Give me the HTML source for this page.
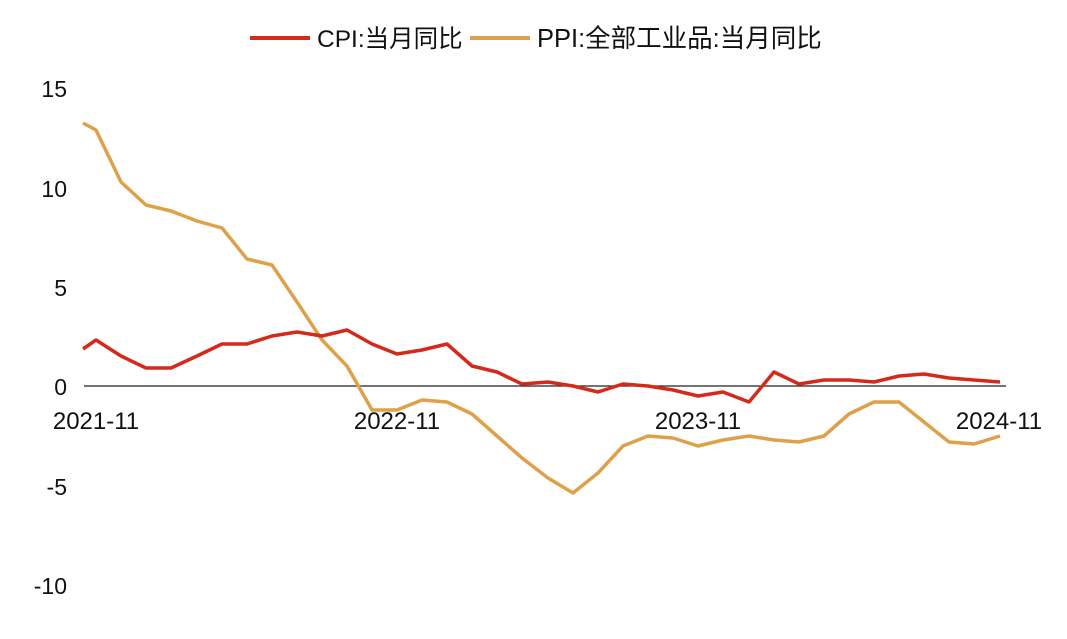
<!DOCTYPE html>
<html><head><meta charset="utf-8"><style>
html,body{margin:0;padding:0;background:#fff;}
svg text{font-family:"Liberation Sans","Noto Sans CJK SC",sans-serif;fill:#111;}
</style></head><body>
<svg width="1067" height="634" viewBox="0 0 1067 634" xmlns="http://www.w3.org/2000/svg">
<line x1="250" y1="38" x2="310" y2="38" stroke="#d42a1c" stroke-width="4"/>
<text x="317" y="47" font-size="24.5">CPI:当月同比</text>
<line x1="470" y1="38" x2="530" y2="38" stroke="#dea14a" stroke-width="4"/>
<text x="537" y="47" font-size="25.5">PPI:全部工业品:当月同比</text>
<g font-size="23" text-anchor="end">
<text x="67" y="97">15</text>
<text x="67" y="197">10</text>
<text x="67" y="296">5</text>
<text x="67" y="395">0</text>
<text x="67" y="495">-5</text>
<text x="67" y="594">-10</text>
</g>
<line x1="84" y1="386" x2="1006" y2="386" stroke="#222" stroke-width="1.3"/>
<g font-size="24" text-anchor="middle">
<text x="96" y="429">2021-11</text>
<text x="397" y="429">2022-11</text>
<text x="698" y="429">2023-11</text>
<text x="999" y="429">2024-11</text>
</g>
<polyline fill="none" stroke="#dea14a" stroke-width="3.5" stroke-linejoin="round" points="83,123 96,130 121,182 146,205 171,211 197,221 222,228 247,259 272,265 297,302 322,340 347,366 372,410 397,410 422,400 447,402 472,414 497,436 522,458 548,478 573,493 598,473 623,446 648,436 673,438 698,446 723,440 749,436 774,440 799,442 824,436 849,414 874,402 899,402 924,422 949,442 974,444 1000,436"/>
<polyline fill="none" stroke="#d42a1c" stroke-width="3.5" stroke-linejoin="round" points="83,349 96,340 121,356 146,368 171,368 197,356 222,344 247,344 272,336 297,332 322,336 347,330 372,344 397,354 422,350 447,344 472,366 497,372 522,384 548,382 573,386 598,392 623,384 648,386 673,390 698,396 723,392 749,402 774,372 799,384 824,380 849,380 874,382 899,376 924,374 949,378 974,380 1000,382"/>
</svg>
</body></html>
